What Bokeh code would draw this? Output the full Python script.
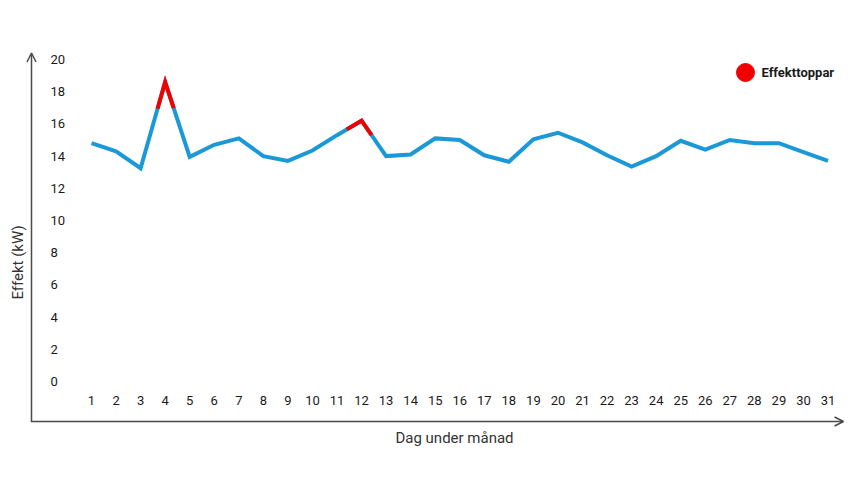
import math
from bokeh.plotting import figure
from bokeh.models import Range1d, Arrow, OpenHead
from bokeh.core.properties import value
from bokeh.embed import file_html
from bokeh.resources import INLINE

# ---- data ----
days = list(range(1, 32))
effekt_kw = [14.8, 14.3, 13.25, 18.6, 13.95, 14.7, 15.1, 14.0, 13.7, 14.35,
             15.3, 16.2, 14.0, 14.1, 15.1, 15.0, 14.05, 13.65, 15.05, 15.45,
             14.85, 14.05, 13.35, 14.0, 14.95, 14.4, 15.0, 14.8, 14.8, 14.25, 13.7]
peak_days = [4, 12]
peak_left_share = [0.31, 0.6]
peak_right_share = [0.35, 0.41]
y_ticks = [0, 2, 4, 6, 8, 10, 12, 14, 16, 18, 20]
y_tick_labels = [str(t) for t in y_ticks]
x_tick_labels = [str(d) for d in days]
legend_label = "Effekttoppar"
x_title = "Dag under månad"
y_title = "Effekt (kW)"

# ---- layout calibration (page pixels) ----
W, H = 845, 468
ORIGIN = 0
PX_DAY1, PX_PER_DAY = 91.0, 24.55
PY_ZERO, PY_PER_KW = 381.0, 16.1
x0 = 1 - (PX_DAY1 - ORIGIN) / PX_PER_DAY
x1 = x0 + W / PX_PER_DAY
y_top = (PY_ZERO - ORIGIN) / PY_PER_KW
y_bot = y_top - H / PY_PER_KW


def dx(px):
    return x0 + (px - ORIGIN) / PX_PER_DAY


def vy(py):
    return (PY_ZERO - py) / PY_PER_KW


BLUE = "#1a98d8"
RED = "#f00000"
AXIS = "#4a4a4a"
TXT = "#1a1a1a"
FONT = value("Roboto")

p = figure(width=W, height=H, x_range=Range1d(x0, x1), y_range=Range1d(y_bot, y_top),
           output_backend="svg", toolbar_location=None, min_border=0,
           x_axis_location=None, y_axis_location=None, outline_line_color=None,
           background_fill_color="white", border_fill_color="white")
p.grid.visible = False

# axes with arrows
p.add_layout(Arrow(end=OpenHead(size=9, line_color=AXIS, line_width=1.5),
                   x_start=dx(31), y_start=vy(421), x_end=dx(31), y_end=vy(52.5),
                   line_color=AXIS, line_width=1.5))
p.add_layout(Arrow(end=OpenHead(size=9, line_color=AXIS, line_width=1.5),
                   x_start=dx(30.3), y_start=vy(421), x_end=dx(843), y_end=vy(421),
                   line_color=AXIS, line_width=1.5))

# tick labels
p.text(x=[dx(50)] * len(y_ticks), y=y_ticks, text=y_tick_labels,
       text_align="left", text_baseline="middle", text_font=FONT,
       text_font_size="13px", text_color=TXT)
p.text(x=days, y=[vy(399.5)] * len(days), text=x_tick_labels,
       text_align="center", text_baseline="middle", text_font=FONT,
       text_font_size="13px", text_color=TXT)

# titles
p.text(x=[dx(454)], y=[vy(437)], text=[x_title], text_align="center",
       text_baseline="middle", text_font=FONT, text_font_size="15px", text_color="#333333")
p.text(x=[dx(17)], y=[vy(262)], text=[y_title], text_align="center",
       text_baseline="middle", angle=math.pi / 2, text_font=FONT,
       text_font_size="15px", text_color="#333333")

# main line
p.line(days, effekt_kw, line_color=BLUE, line_width=4, line_join="miter")

# peaks in red
for k, fl, fr in zip(peak_days, peak_left_share, peak_right_share):
    i = days.index(k)
    vk = effekt_kw[i]
    yl = vk + (effekt_kw[i - 1] - vk) * fl
    yr = vk + (effekt_kw[i + 1] - vk) * fr
    p.line([k - fl, k, k + fr], [yl, vk, yr], line_color=RED, line_width=4,
           line_join="miter")

# legend
p.scatter(x=[dx(745)], y=[vy(72)], size=18, fill_color=RED, line_color=RED)
p.text(x=[dx(761)], y=[vy(71.5)], text=[legend_label], text_align="left",
       text_baseline="middle", text_font=FONT, text_font_size="13px",
       text_font_style="bold", text_color=TXT)

open("out.html", "w").write(file_html(p, INLINE))
